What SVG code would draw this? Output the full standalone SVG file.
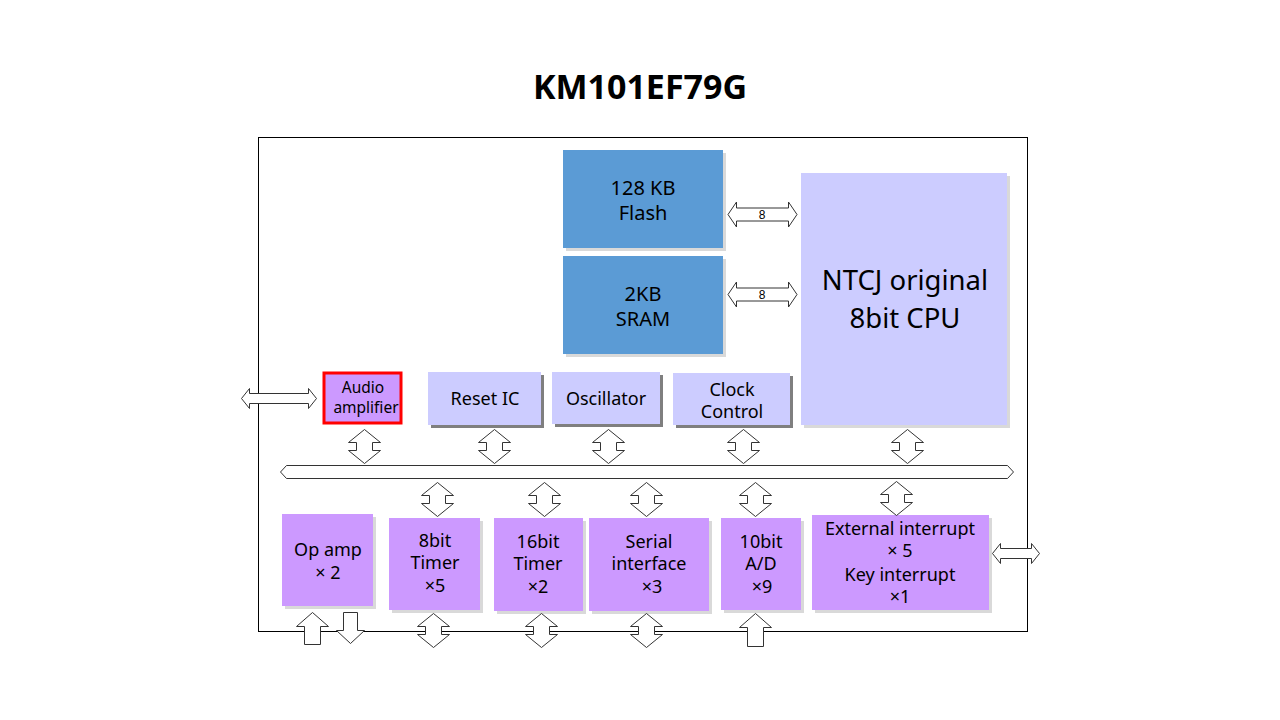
<svg xmlns="http://www.w3.org/2000/svg" width="1280" height="720" viewBox="0 0 1280 720">
<defs>
<style>
text{font-family:"Noto Sans","Open Sans","DejaVu Sans",sans-serif;fill:#000;text-anchor:middle}
.t18{font-size:18px}
.t20{font-size:20px}
.t28{font-size:27.5px}
.t15{font-size:15.5px}
.blue{fill:#5B9BD5}
.lav{fill:#CCCCFF}
.pur{fill:#CC99FF}
.sh{fill:#D9D9D9}
.shd{fill:#7F7F7F}
.arr{fill:#fff;stroke:#333;stroke-width:1;stroke-linejoin:miter}
</style>
<path id="vda" d="M0,0 L16,13 L8,13 L8,21 L16,21 L0,34 L-16,21 L-8,21 L-8,13 L-16,13 Z"/>
</defs>
<rect width="1280" height="720" fill="#fff"/>
<text x="640" y="99" style="font-size:34px;font-weight:bold">KM101EF79G</text>
<rect x="258.5" y="137.5" width="769" height="494" fill="none" stroke="#000" stroke-width="1"/>

<g id="flash">
<rect class="sh" x="566" y="153" width="160" height="98"/>
<rect class="blue" x="563" y="150" width="160" height="98"/>
<text class="t20"><tspan x="643" y="195">128 KB</tspan><tspan x="643" y="220">Flash</tspan></text>
</g>
<g id="sram">
<rect class="sh" x="566" y="259" width="160" height="98"/>
<rect class="blue" x="563" y="256" width="160" height="98"/>
<text class="t20"><tspan x="643" y="301">2KB</tspan><tspan x="643" y="326">SRAM</tspan></text>
</g>
<g id="cpu">
<rect class="sh" x="804" y="176" width="206" height="252"/>
<rect class="lav" x="801" y="173" width="206" height="252"/>
<text class="t28" x="905" y="290">NTCJ original</text>
<text class="t28" x="905" y="328">8bit CPU</text>
</g>
<g id="audio">
<rect class="pur" x="324" y="373" width="77" height="50" stroke="#FF0000" stroke-width="3"/>
<text class="t15"><tspan x="363" y="393">Audio</tspan><tspan x="366" y="413">amplifier</tspan></text>
</g>
<g id="reset">
<rect class="shd" x="431" y="375" width="113" height="53"/>
<rect class="lav" x="428" y="372" width="113" height="53"/>
<text class="t18" x="485" y="405">Reset IC</text>
</g>
<g id="osc">
<rect class="shd" x="555" y="375" width="108" height="52"/>
<rect class="lav" x="552" y="372" width="108" height="52"/>
<text class="t18" x="606" y="405">Oscillator</text>
</g>
<g id="clock">
<rect class="shd" x="676" y="376" width="117" height="52"/>
<rect class="lav" x="673" y="373" width="117" height="52"/>
<text class="t18"><tspan x="732" y="396">Clock</tspan><tspan x="732" y="418">Control</tspan></text>
</g>

<g id="opamp">
<rect class="sh" x="285" y="517" width="91" height="92"/>
<rect class="pur" x="282" y="514" width="91" height="92"/>
<text class="t18"><tspan x="328" y="556">Op amp</tspan><tspan x="328" y="579">× 2</tspan></text>
</g>
<g id="timer8">
<rect class="sh" x="392" y="521" width="91" height="92"/>
<rect class="pur" x="389" y="518" width="91" height="92"/>
<text class="t18"><tspan x="435" y="547">8bit</tspan><tspan x="435" y="569">Timer</tspan><tspan x="435" y="592">×5</tspan></text>
</g>
<g id="timer16">
<rect class="sh" x="497" y="521" width="89" height="93"/>
<rect class="pur" x="494" y="518" width="89" height="93"/>
<text class="t18"><tspan x="538" y="548">16bit</tspan><tspan x="538" y="570">Timer</tspan><tspan x="538" y="593">×2</tspan></text>
</g>
<g id="serial">
<rect class="sh" x="592" y="521" width="120" height="93"/>
<rect class="pur" x="589" y="518" width="120" height="93"/>
<text class="t18"><tspan x="649" y="548">Serial</tspan><tspan x="649" y="570">interface</tspan><tspan x="652" y="593">×3</tspan></text>
</g>
<g id="adc">
<rect class="sh" x="724" y="521" width="80" height="92"/>
<rect class="pur" x="721" y="518" width="80" height="92"/>
<text class="t18"><tspan x="761" y="548">10bit</tspan><tspan x="761" y="570">A/D</tspan><tspan x="762" y="593">×9</tspan></text>
</g>
<g id="extint">
<rect class="sh" x="815" y="518" width="177" height="95"/>
<rect class="pur" x="812" y="515" width="177" height="95"/>
<text class="t18"><tspan x="900" y="535">External interrupt</tspan><tspan x="900" y="557">× 5</tspan><tspan x="900" y="581">Key interrupt</tspan><tspan x="900" y="603">×1</tspan></text>
</g>

<g id="connectors">
<path class="arr" d="M728,214.5 L736.5,202 L736.5,208 L788.5,208 L788.5,202 L797,214.5 L788.5,227 L788.5,221 L736.5,221 L736.5,227 Z"/>
<text x="762" y="219" style="font-family:'Liberation Sans',Arial,sans-serif;font-size:12px">8</text>
<path class="arr" d="M728,294.5 L736.5,282 L736.5,288 L788.5,288 L788.5,282 L797,294.5 L788.5,307 L788.5,301 L736.5,301 L736.5,307 Z"/>
<text x="762" y="299" style="font-family:'Liberation Sans',Arial,sans-serif;font-size:12px">8</text>
<path class="arr" d="M241.5,398.5 L249.5,388.5 L249.5,393.5 L308.5,393.5 L308.5,388.5 L316.5,398.5 L308.5,408.5 L308.5,403.5 L249.5,403.5 L249.5,408.5 Z"/>
<path class="arr" d="M992.5,553.5 L1000.5,543.5 L1000.5,548.5 L1031.5,548.5 L1031.5,543.5 L1039.5,553.5 L1031.5,563.5 L1031.5,558.5 L1000.5,558.5 L1000.5,563.5 Z"/>
<path class="arr" d="M280.5,472 L286.5,465.5 L1007.5,465.5 L1013.5,472 L1007.5,478.5 L286.5,478.5 Z"/>
<use href="#vda" class="arr" transform="translate(364.5,429.5)"/>
<use href="#vda" class="arr" transform="translate(494.5,429.5)"/>
<use href="#vda" class="arr" transform="translate(608.5,429.5)"/>
<use href="#vda" class="arr" transform="translate(743.5,429.5)"/>
<use href="#vda" class="arr" transform="translate(907.5,429.5)"/>
<use href="#vda" class="arr" transform="translate(437.5,482.5)"/>
<use href="#vda" class="arr" transform="translate(544.5,482.5)"/>
<use href="#vda" class="arr" transform="translate(646.5,482.5)"/>
<use href="#vda" class="arr" transform="translate(755.5,482.5)"/>
<use href="#vda" class="arr" transform="translate(896.5,481.5)"/>
<use href="#vda" class="arr" transform="translate(433.5,613.5)"/>
<use href="#vda" class="arr" transform="translate(541.5,613.5)"/>
<use href="#vda" class="arr" transform="translate(646.5,613.5)"/>
<path class="arr" d="M312.5,612.5 L328.5,626.5 L320.5,626.5 L320.5,644.5 L304.5,644.5 L304.5,626.5 L296.5,626.5 Z"/>
<path class="arr" d="M343.5,612.5 L357.5,612.5 L357.5,630.5 L364.5,630.5 L350.5,643.5 L336.5,630.5 L343.5,630.5 Z"/>
<path class="arr" d="M755.5,613.5 L771.5,627.5 L763.5,627.5 L763.5,646.5 L747.5,646.5 L747.5,627.5 L739.5,627.5 Z"/>
</g>
</svg>
